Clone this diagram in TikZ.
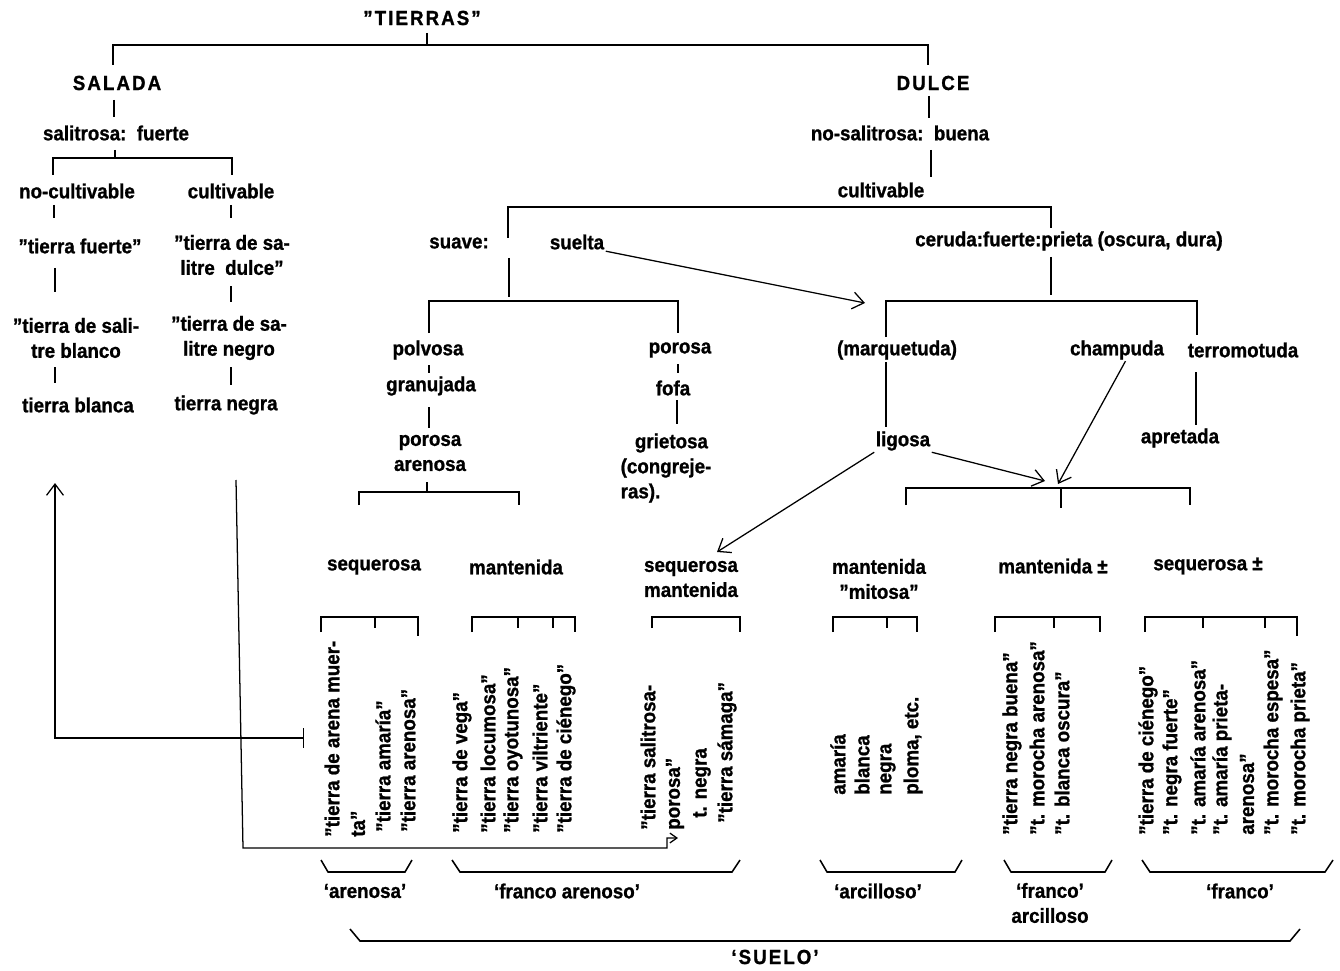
\documentclass[tikz,border=0pt]{standalone}
\usepackage{fontspec}
\setmainfont{Liberation Sans}[FakeStretch=0.92, BoldFeatures={FakeBold=1.0}]
\usetikzlibrary{arrows.meta}
\newcommand\mytxt{\fontsize{14.5}{17.8}\selectfont\bfseries}
\newcommand\capsp{\addfontfeatures{LetterSpace=10}}
\begin{document}
\begin{tikzpicture}[x=0.025cm,y=-0.025cm,
  every node/.style={font=\mytxt, inner sep=1pt},
  lbl/.style={align=center},
  rot/.style={rotate=90, anchor=west, inner sep=0pt},
  ln/.style={line width=1.1pt},
  arr/.style={line width=0.9pt, -{Straight Barb[length=8pt,width=12pt]}}]
\useasboundingbox (0,0) rectangle (1340,971);

% ---------- texts, upper part ----------
\node (tierras) at (422,18) {\capsp ''TIERRAS''};
\node (salada) at (117,83) {\capsp SALADA};
\node (dulce) at (933,83) {\capsp DULCE};
\node (salit) at (116,133) {salitrosa:\ \ fuerte};
\node (nosal) at (900,133) {no-salitrosa:\ \ buena};
\node (nocult) at (77,191) {no-cultivable};
\node (cultL) at (231,191) {cultivable};
\node (cultR) at (881,190) {cultivable};
\node (tfuerte) at (80,246) {''tierra fuerte''};
\node[lbl] (tsdulce) at (232,255) {''tierra de sa-\\litre\ \ dulce''};
\node[lbl] (tsblanco) at (76,338) {''tierra de sali-\\tre blanco};
\node[lbl] (tsnegro) at (229,338) {''tierra de sa-\\litre negro};
\node (tblanca) at (78,405) {tierra blanca};
\node (tnegra) at (226,405) {tierra negra};

\node (suave) at (459,243) {suave:};
\node (suelta) at (577,242) {suelta};
\node (ceruda) at (1069,241) {ceruda:fuerte:prieta (oscura, dura)};
\node (polvosa) at (428,350) {polvosa};
\node (granujada) at (431,386) {granujada};
\node[lbl] (porarena) at (430,453) {porosa\\arenosa};
\node (porosa) at (680,350) {porosa};
\node (fofa) at (673,388) {fofa};
\node[align=left, anchor=west] (grietosa) at (619,468) {\hspace*{0.7em}grietosa\\(congreje-\\ras).};
\node (marquetuda) at (897,350) {(marquetuda)};
\node (champuda) at (1117,350) {champuda};
\node (terromotuda) at (1243,350) {terromotuda};
\node (ligosa) at (903,441) {ligosa};
\node (apretada) at (1180,438) {apretada};

\node (seqA) at (374,567) {sequerosa};
\node (mantA) at (516,567) {mantenida};
\node[lbl] (seqmant) at (691,579) {sequerosa\\mantenida};
\node[lbl] (mitosa) at (879,579) {mantenida\\''mitosa''};
\node (mantpm) at (1053,566) {mantenida ±};
\node (seqpm) at (1208,566) {sequerosa ±};

% ---------- tree lines ----------
\draw[ln] (427,33) -- (427,45);
\draw[ln] (113,65) -- (113,45) -- (928,45) -- (928,65);
\draw[ln] (114,100) -- (114,117);
\draw[ln] (115,150) -- (115,158);
\draw[ln] (53,175) -- (53,158) -- (232,158) -- (232,175);
\draw[ln] (54,205) -- (54,218);
\draw[ln] (231,205) -- (231,218);
\draw[ln] (55,268) -- (55,292);
\draw[ln] (231,286) -- (231,302);
\draw[ln] (55,367) -- (55,383);
\draw[ln] (231,367) -- (231,385);

\draw[ln] (929,96) -- (929,118);
\draw[ln] (931,150) -- (931,177);
\draw[ln] (508,238) -- (508,207) -- (1051,207) -- (1051,228);
\draw[ln] (509,258) -- (509,297);
\draw[ln] (1051,257) -- (1051,295);
\draw[ln] (429,333) -- (429,301) -- (678,301) -- (678,333);
\draw[ln] (429,365) -- (429,373);
\draw[ln] (429,407) -- (429,428);
\draw[ln] (427,482) -- (427,492);
\draw[ln] (359,505) -- (359,492) -- (519,492) -- (519,505);
\draw[ln] (678,364) -- (678,373);
\draw[ln] (677,400) -- (677,424);
\draw[ln] (886,337) -- (886,301) -- (1197,301) -- (1197,335);
\draw[ln] (886,362) -- (886,427);
\draw[ln] (1196,372) -- (1196,425);
\draw[ln] (906,505) -- (906,488) -- (1190,488) -- (1190,505);
\draw[ln] (1061,488) -- (1061,508);

% group brackets
\draw[ln] (321,632) -- (321,617) -- (418,617) -- (418,636);
\draw[ln] (375,617) -- (375,628);
\draw[ln] (472,632) -- (472,617) -- (575,617) -- (575,632);
\draw[ln] (518,617) -- (518,628);
\draw[ln] (553,617) -- (553,628);
\draw[ln] (652,628) -- (652,617) -- (740,617) -- (740,632);
\draw[ln] (833,632) -- (833,617) -- (917,617) -- (917,632);
\draw[ln] (887,617) -- (887,628);
\draw[ln] (995,632) -- (995,617) -- (1100,617) -- (1100,632);
\draw[ln] (1054,617) -- (1054,628);
\draw[ln] (1145,632) -- (1145,617) -- (1297,617) -- (1297,636);
\draw[ln] (1203,617) -- (1203,628);
\draw[ln] (1265,617) -- (1265,628);

% ---------- rotated lists ----------
\node[rot] (a1) at (332,837) {''tierra de arena muer-};
\node[rot] (a2) at (358,837) {ta''};
\node[rot] (a3) at (383,832) {''tierra amaría''};
\node[rot] (a4) at (408,832) {''tierra arenosa''};

\node[rot] (b1) at (462,833) {''tierra de vega''};
\node[rot] (b2) at (488,833) {''tierra locumosa''};
\node[rot] (b3) at (513,833) {''tierra oyotunosa''};
\node[rot] (b4) at (540,833) {''tierra viltriente''};
\node[rot] (b5) at (566,833) {''tierra de ciénego''};

\node[rot] (c1) at (648,830) {''tierra salitrosa-};
\node[rot] (c2) at (675,830) {porosa''};
\node[rot] (c3) at (702,818) {t. negra};
\node[rot] (c4) at (727,823) {''tierra sámaga''};

\node[rot] (d1) at (838,795) {amaría};
\node[rot] (d2) at (862,795) {blanca};
\node[rot] (d3) at (888,795) {negra};
\node[rot] (d4) at (913,795) {ploma, etc.};

\node[rot] (e1) at (1012,835) {''tierra negra buena''};
\node[rot] (e2) at (1037,835) {''t. morocha arenosa''};
\node[rot] (e3) at (1062,835) {''t. blanca oscura''};

\node[rot] (f1) at (1148,835) {''tierra de ciénego''};
\node[rot] (f2) at (1172,835) {''t. negra fuerte''};
\node[rot] (f3) at (1198,835) {''t. amaría arenosa''};
\node[rot] (f4) at (1222,835) {''t. amaría prieta-};
\node[rot] (f5) at (1247,835) {arenosa''};
\node[rot] (f6) at (1273,835) {''t. morocha espesa''};
\node[rot] (f7) at (1300,835) {''t. morocha prieta''};

% ---------- arrows ----------
\coordinate (mq) at (865,303);
\coordinate (barin1) at (1045,481);
\coordinate (barin2) at (1058,484);
\coordinate (smin) at (717,552);
\draw[arr] (suelta.south east) -- (mq);
\draw[arr] (ligosa.south east) -- (barin1);
\draw[arr] ([xshift=6pt]champuda.south) -- (barin2);
\draw[arr] (ligosa.south west) -- (smin);

\coordinate (upend) at (55,483);
\coordinate (barstart) at (304,738);
\draw[line width=0.9pt, {Bar[width=14pt]}-{Straight Barb[length=8pt,width=12pt]}] (barstart) -- (55,738) -- (upend);
\coordinate (dnstart) at (236,480);
\coordinate (poin) at (678,838);
\draw[line width=0.9pt, -{Straight Barb[length=5pt,width=7pt]}] (dnstart) -- (243,848) -- (667,848) -- (667,838) -- (poin);

% ---------- bottom braces ----------
\draw[ln] (321,860) -- (328,872) -- (405,872) -- (412,860);
\draw[ln] (452,860) -- (460,872) -- (732,872) -- (740,860);
\draw[ln] (820,860) -- (827,872) -- (955,872) -- (962,860);
\draw[ln] (1004,860) -- (1011,872) -- (1105,872) -- (1112,860);
\draw[ln] (1142,860) -- (1150,872) -- (1325,872) -- (1333,860);
\draw[ln] (350,929) -- (360,941) -- (1290,941) -- (1300,929);

\node (l1) at (365,891) {`arenosa'};
\node (l2) at (567,891) {`franco arenoso'};
\node (l3) at (878,891) {`arcilloso'};
\node[lbl] (l4) at (1050,903) {`franco'\\arcilloso};
\node (l5) at (1240,891) {`franco'};
\node (suelo) at (775,957) {\capsp `SUELO'};
\end{tikzpicture}
\end{document}
